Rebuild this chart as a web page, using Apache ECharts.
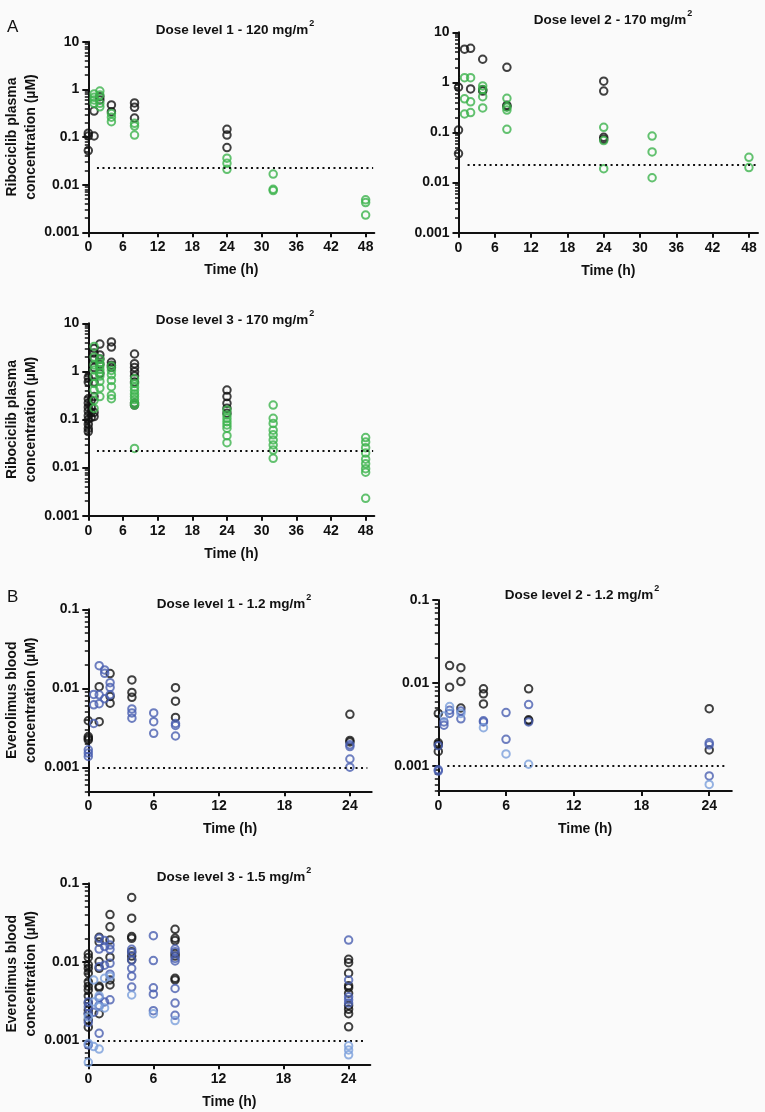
<!DOCTYPE html>
<html><head><meta charset="utf-8">
<script src="https://cdn.jsdelivr.net/npm/echarts@6/dist/echarts.min.js"></script>
<style>html,body{margin:0;padding:0;background:#fafafa}#c{width:765px;height:1112px}</style>
</head><body><div id="c"></div>
<script>
// helper: one sampling time with several measured concentrations
function col(t, vals) { return vals.map(function (v) { return [t, v]; }); }

// ---------- Ribociclib (µM) ----------
const rib1Black = [].concat(col(0,[0.12,0.105,0.052]), col(1,[0.35,0.105]), col(2,[0.70,0.6]),
  col(4,[0.47,0.34]), col(8,[0.52,0.42,0.25]), col(24,[0.145,0.11,0.06]));
const rib1Green = [].concat(col(1,[0.8,0.68,0.6,0.51]), col(2,[0.92,0.76,0.51,0.43]), col(4,[0.31,0.26,0.21]),
  col(8,[0.194,0.17,0.11]), col(24,[0.036,0.028,0.021]), col(32,[0.0167,0.008,0.0075]), col(48,[0.0048,0.0042,0.0023]));

const rib2Black = [].concat(col(0,[0.8,0.112,0.038]), col(1,[4.6]), col(2,[4.8,0.74]), col(4,[2.9,0.71,0.67]),
  col(8,[2.0,0.35,0.33]), col(24,[1.06,0.67,0.08,0.073]));
const rib2Green = [].concat(col(1,[1.24,0.47,0.234]), col(2,[1.24,0.41,0.25]), col(4,[0.85,0.72,0.52,0.31]),
  col(8,[0.48,0.32,0.28,0.116]), col(24,[0.127,0.069,0.019]), col(32,[0.085,0.041,0.0125]), col(48,[0.032,0.02]));

const rib3Black = [].concat(col(0,[0.056,0.065,0.08,0.1,0.12,0.15,0.18,0.22,0.27,0.6,0.75]), col(0.5,[0.11,0.14,0.18,0.25]),
  col(1,[3.0,2.4,1.8,1.2,0.6,0.3,0.14,0.115]), col(2,[3.7,2.2,1.8,1.4,0.9]), col(4,[4.1,3.2,1.55,1.35,1.2]),
  col(8,[2.3,1.45,1.2,0.98,0.8,0.6,0.22,0.2]), col(24,[0.41,0.3,0.217,0.171,0.135]));
const rib3Green = [].concat(col(1,[3.3,2.0,1.36,1.07,0.78,0.56,0.41,0.25,0.17]), col(2,[1.8,1.5,1.3,1.1,0.95,0.8,0.62,0.45,0.3]),
  col(4,[1.3,1.05,0.85,0.65,0.48,0.32,0.27]), col(8,[0.7,0.56,0.47,0.4,0.34,0.3,0.26,0.22,0.2,0.025]),
  col(24,[0.158,0.124,0.106,0.09,0.077,0.066,0.046,0.033]), col(32,[0.2,0.106,0.083,0.06,0.048,0.0375,0.0295,0.0232,0.0156]),
  col(48,[0.042,0.034,0.026,0.02,0.015,0.012,0.0095,0.008,0.0023]));

// ---------- Everolimus (µM) ----------
const eve1Black = [].concat(col(0,[0.0039,0.00246,0.00234,0.00223]), col(1,[0.0105,0.0038]), col(2,[0.0154,0.0079,0.0065]),
  col(4,[0.0128,0.0089,0.0077]), col(8,[0.0102,0.0069,0.0043]), col(24,[0.0047,0.0022,0.0021]));
const eve1Blue = [].concat(col(0,[0.00167,0.00152,0.00138]), col(0.5,[0.0084,0.0062,0.0036]), col(1,[0.0194,0.0083,0.0064]),
  col(1.5,[0.0171,0.0155,0.0074]), col(2,[0.0118,0.0103,0.0083]), col(4,[0.0055,0.0049,0.0042]), col(6,[0.0049,0.0038,0.0027]),
  col(8,[0.0036,0.0034,0.0025]), col(24,[0.00194,0.00184,0.00128,0.00101]));
const eve1Light = [];

const eve2Black = [].concat(col(0,[0.0043,0.0019,0.0018,0.0015]), col(1,[0.0162,0.0089]), col(2,[0.0153,0.0104,0.005]),
  col(4,[0.0085,0.0074,0.0056]), col(8,[0.0085,0.0036,0.0035]), col(24,[0.0049,0.00156]));
const eve2Blue = [].concat(col(0,[0.00176,0.0009,0.00087]), col(0.5,[0.0034,0.0031]), col(1,[0.0047,0.0043]), col(2,[0.0046,0.0037]),
  col(4,[0.0035,0.0034]), col(6,[0.0044,0.0021]), col(8,[0.0055,0.0034]), col(24,[0.0019,0.0018,0.00076]));
const eve2Light = [].concat(col(0.5,[0.004]), col(1,[0.0052]), col(2,[0.0043]), col(4,[0.0029]), col(6,[0.0014]), col(8,[0.00105]), col(24,[0.0006]));

const eve3Black = [].concat(col(0,[0.0126,0.0114,0.0092,0.0083,0.0072,0.0056,0.0049,0.0044,0.0037,0.003,0.00245,0.0022,0.00183,0.00148]),
  col(1,[0.0206,0.018,0.0101,0.0083,0.0049,0.0047,0.0022]), col(2,[0.04,0.028,0.019,0.0115,0.0059,0.0051]),
  col(4,[0.066,0.036,0.021,0.02,0.0135,0.0119,0.0106]), col(8,[0.026,0.02,0.0187,0.0128,0.0119,0.0062,0.0059]),
  col(24,[0.0108,0.0098,0.0072,0.005,0.0047,0.004,0.0028,0.0025,0.0022,0.0015]));
const eve3Blue = [].concat(col(0,[0.0031,0.0027,0.0022,0.0017,0.00088]), col(0.5,[0.0023]), col(1,[0.02,0.0146,0.0087,0.0035,0.0028,0.00124]),
  col(1.5,[0.0187,0.0157,0.0091,0.0031]), col(2,[0.0164,0.0145,0.0096,0.007,0.0033]), col(4,[0.0145,0.0131,0.0106,0.0083,0.0066,0.0048]),
  col(6,[0.0216,0.0104,0.0047,0.0039,0.0024]), col(8,[0.0146,0.0135,0.0111,0.0103,0.0046,0.003,0.0021]), col(24,[0.019,0.0059,0.0036,0.0033,0.003]));
const eve3Light = [].concat(col(0,[0.002,0.00092,0.00053]), col(0.5,[0.0059,0.0031,0.00084]), col(1,[0.0037,0.0027,0.00078]),
  col(1.5,[0.0062,0.0026]), col(2,[0.0066]), col(4,[0.0038]), col(6,[0.0022]), col(8,[0.0018]), col(24,[0.00086,0.00076,0.00066]));

// ---------- axes / labels ----------
const ribTimeTicks = [0,6,12,18,24,30,36,42,48];
const eveTimeTicks = [0,6,12,18,24];
const ribConcTicks = [0.001,0.01,0.1,1,10];
const eveConcTicks = [0.001,0.01,0.1];
const ribLLOQ = 0.0228;
const eveLLOQ = 0.001;
const titles = ['Dose level 1 - 120 mg/m', 'Dose level 2 - 170 mg/m', 'Dose level 3 - 170 mg/m',
                'Dose level 1 - 1.2 mg/m', 'Dose level 2 - 1.2 mg/m', 'Dose level 3 - 1.5 mg/m'];
const ribYName = 'Ribociclib plasma\nconcentration (µM)';
const eveYName = 'Everolimus blood\nconcentration (µM)';
const xName = 'Time (h)';

function minors(lo, hi) {
  const out = [];
  for (let d = -4; d <= 1; d++) {
    for (let k = 2; k <= 9; k++) {
      const v = +(k * Math.pow(10, d)).toPrecision(3);
      if (v >= lo - 1e-12 && v <= hi + 1e-12) out.push(v);
    }
  }
  return out;
}

const GREEN = '#3cb34c', BLACK = '#111111', BLUE = '#4a5fb0', LIGHT = '#7a9fdb';

const panels = [
  { g:{left:88.3, top:41.7, width:286, height:190.6}, ymin:0.001, ymax:10, xmax:49.5, xt:ribTimeTicks, yt:ribConcTicks, lloq:ribLLOQ, lx:[1.5,49.3],
    s:[[rib1Black,BLACK],[rib1Green,GREEN]], t:titles[0], tx:230, ty:23, yname:ribYName },
  { g:{left:458.5, top:32.3, width:299.5, height:200.4}, ymin:0.001, ymax:10, xmax:49.5, xt:ribTimeTicks, yt:ribConcTicks, lloq:ribLLOQ, lx:[1.5,49.3],
    s:[[rib2Black,BLACK],[rib2Green,GREEN]], t:titles[1], tx:608, ty:13, yname:'' },
  { g:{left:88.3, top:323.3, width:286, height:192.4}, ymin:0.001, ymax:10, xmax:49.5, xt:ribTimeTicks, yt:ribConcTicks, lloq:ribLLOQ, lx:[1.5,49.3],
    s:[[rib3Black,BLACK],[rib3Green,GREEN]], t:titles[2], tx:230, ty:313, yname:ribYName },
  { g:{left:88.3, top:609.3, width:283.4, height:182}, ymin:0.0005, ymax:0.1, xmax:26, xt:eveTimeTicks, yt:eveConcTicks, lloq:eveLLOQ, lx:[0.8,25.6],
    s:[[eve1Black,BLACK],[eve1Blue,BLUE],[eve1Light,LIGHT]], t:titles[3], tx:229, ty:597, yname:eveYName },
  { g:{left:438.3, top:600, width:293.5, height:191}, ymin:0.0005, ymax:0.1, xmax:26, xt:eveTimeTicks, yt:eveConcTicks, lloq:eveLLOQ, lx:[0.8,25.6],
    s:[[eve2Black,BLACK],[eve2Blue,BLUE],[eve2Light,LIGHT]], t:titles[4], tx:577, ty:588, yname:'' },
  { g:{left:88.3, top:883.3, width:282, height:181}, ymin:0.0005, ymax:0.1, xmax:26, xt:eveTimeTicks, yt:eveConcTicks, lloq:eveLLOQ, lx:[0.8,25.6],
    s:[[eve3Black,BLACK],[eve3Blue,BLUE],[eve3Light,LIGHT]], t:titles[5], tx:229, ty:870, yname:eveYName }
];

const FONT = 'Liberation Sans, Arial, Helvetica, sans-serif';
const grid = [], xAxis = [], yAxis = [], series = [], title = [];
panels.forEach(function (p, i) {
  grid.push(Object.assign({ containLabel:false }, p.g));
  xAxis.push({
    type:'value', gridIndex:i, min:0, max:p.xmax,
    name:xName, nameLocation:'middle', nameGap:31,
    nameTextStyle:{ fontFamily:FONT, fontWeight:'bold', fontSize:14, color:'#111' },
    axisLine:{ show:true, lineStyle:{ color:'#111', width:2 } },
    axisTick:{ show:true, length:5, lineStyle:{ color:'#111', width:2 }, customValues:p.xt },
    axisLabel:{ fontFamily:FONT, fontWeight:'bold', fontSize:14, color:'#111', margin:8, customValues:p.xt },
    splitLine:{ show:false }
  });
  yAxis.push({
    type:'log', logBase:10, gridIndex:i, min:p.ymin, max:p.ymax, position:'left', offset:0,
    name:p.yname, nameLocation:'middle', nameGap:46, nameRotate:90,
    nameTextStyle:{ fontFamily:FONT, fontWeight:'bold', fontSize:14, color:'#111', lineHeight:19, align:'center' },
    axisLine:{ show:true, lineStyle:{ color:'#111', width:2 } },
    axisTick:{ show:true, length:6, lineStyle:{ color:'#111', width:2 }, customValues:p.yt },
    axisLabel:{ fontFamily:FONT, fontWeight:'bold', fontSize:14, color:'#111', margin:9, customValues:p.yt,
      formatter:function (v) { return String(+(+v).toPrecision(2)); } },
    splitLine:{ show:false }
  });
  yAxis.push({
    type:'log', logBase:10, gridIndex:i, min:p.ymin, max:p.ymax, position:'left', offset:0,
    axisLine:{ show:false },
    axisTick:{ show:true, length:3.5, lineStyle:{ color:'#111', width:1.5 }, customValues:minors(p.ymin, p.ymax) },
    axisLabel:{ show:false }, splitLine:{ show:false }
  });
  title.push({
    text:'{a|' + p.t + '}{s|2}', left:p.tx, top:p.ty - 9, textAlign:'center',
    textStyle:{ rich:{
      a:{ fontFamily:FONT, fontWeight:'bold', fontSize:13.5, color:'#111', verticalAlign:'bottom', lineHeight:18 },
      s:{ fontFamily:FONT, fontWeight:'bold', fontSize:9, color:'#111', verticalAlign:'top', lineHeight:12, padding:[0,0,0,1] } } }
  });
  p.s.forEach(function (sd, j) {
    const ser = {
      type:'scatter', xAxisIndex:i, yAxisIndex:2 * i, data:sd[0], symbol:'circle', symbolSize:7.5,
      itemStyle:{ color:'rgba(0,0,0,0)', borderColor:sd[1], borderWidth:2 },
      emphasis:{ disabled:true }, silent:true, z:3 + j
    };
    if (j === 0) {
      ser.markLine = { silent:true, symbol:'none', label:{ show:false }, animation:false,
        lineStyle:{ color:'#111', type:[2, 3.5], width:1.8 },
        data:[[{ coord:[p.lx[0], p.lloq] }, { coord:[p.lx[1], p.lloq] }]] };
    }
    series.push(ser);
  });
});

const chart = echarts.init(document.getElementById('c'), null, { renderer:'canvas' });
chart.setOption({
  backgroundColor:'#fafafa', animation:false,
  title: title.concat([
    { text:'A', left:2, top:14, textStyle:{ fontFamily:FONT, fontWeight:'normal', fontSize:17, color:'#111' } },
    { text:'B', left:2, top:584, textStyle:{ fontFamily:FONT, fontWeight:'normal', fontSize:17, color:'#111' } }
  ]),
  grid:grid, xAxis:xAxis, yAxis:yAxis, series:series
});
</script>
</body></html>
